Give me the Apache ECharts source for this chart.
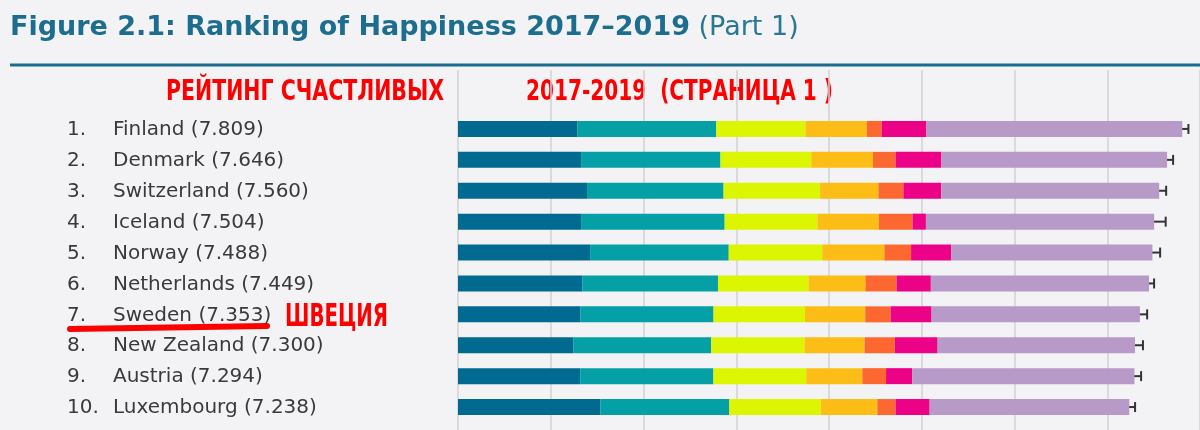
<!DOCTYPE html>
<html><head><meta charset="utf-8">
<script src="https://cdn.jsdelivr.net/npm/echarts@6/dist/echarts.min.js"></script>
<style>html,body{margin:0;padding:0;background:#f3f3f5}#c{width:1200px;height:430px}</style>
</head><body><div id="c"></div><script>
const ranks = ['1.','2.','3.','4.','5.','6.','7.','8.','9.','10.'];
const countries = ['Finland','Denmark','Switzerland','Iceland','Norway','Netherlands','Sweden','New Zealand','Austria','Luxembourg'];
const scores = ['7.809','7.646','7.560','7.504','7.488','7.449','7.353','7.300','7.294','7.238'];
const gdp        = [1.285,1.327,1.391,1.327,1.424,1.339,1.322,1.242,1.317,1.537];
const social     = [1.500,1.503,1.472,1.548,1.495,1.464,1.433,1.487,1.437,1.388];
const health     = [0.961,0.979,1.041,1.001,1.008,0.976,0.986,1.008,1.001,0.986];
const freedom    = [0.662,0.665,0.629,0.662,0.670,0.614,0.650,0.647,0.604,0.610];
const generosity = [0.160,0.243,0.269,0.362,0.288,0.336,0.273,0.326,0.256,0.196];
const corruption = [0.478,0.495,0.408,0.145,0.434,0.369,0.442,0.461,0.281,0.368];
const dystopia   = [2.763,2.433,2.350,2.461,2.168,2.352,2.246,2.128,2.397,2.153];
const ciLow  = [7.735,7.570,7.490,7.380,7.410,7.390,7.275,7.220,7.225,7.165];
const ciHigh = [7.875,7.710,7.635,7.630,7.570,7.505,7.430,7.385,7.365,7.300];

const segNames = ['GDP per capita','Social support','Healthy life expectancy','Freedom','Generosity','Corruption','Dystopia + residual'];
const segData = [gdp, social, health, freedom, generosity, corruption, dystopia];
const segColors = ['#006a91','#04a0a5','#dcf500','#fbbd16','#fd6830','#ec0287','#b79ac8'];

const redFamily = '"Liberation Sans Narrow", "DejaVu Sans Condensed", sans-serif';
function fitScale(text, size, target){
  const ctx = document.createElement('canvas').getContext('2d');
  ctx.font = 'bold ' + size + 'px ' + redFamily;
  return target / ctx.measureText(text).width;
}
const t1 = 'РЕЙТИНГ СЧАСТЛИВЫХ', t2 = '2017-2019  (СТРАНИЦА 1 )', t3 = 'ШВЕЦИЯ';
function redText(text, x, y, size, width){
  return { type: 'text', x: x, y: y, scaleX: fitScale(text, size, width),
    style: { text: text, fontFamily: redFamily, fontWeight: 'bold', fontSize: size,
      fill: '#ff0000', align: 'left', verticalAlign: 'middle' } };
}

const chart = echarts.init(document.getElementById('c'));
const series = segData.map((d, k) => ({
  name: segNames[k], type: 'bar', stack: 'total', xAxisIndex: 1, yAxisIndex: 1,
  barWidth: 16, data: d, itemStyle: { color: segColors[k] }, silent: true
}));
series.push({
  type: 'custom', xAxisIndex: 1, yAxisIndex: 1, silent: true,
  data: ciLow.map((l, i) => [l, ciHigh[i], i]),
  encode: { x: [0, 1], y: 2 },
  renderItem: function (params, api) {
    const a = api.coord([api.value(0), api.value(2)]);
    const b = api.coord([api.value(1), api.value(2)]);
    const h = 5, st = { stroke: '#333', lineWidth: 2 };
    return { type: 'group', children: [
      { type: 'line', shape: { x1: a[0], y1: a[1], x2: b[0], y2: b[1] }, style: st },
      { type: 'line', shape: { x1: a[0], y1: a[1]-h, x2: a[0], y2: a[1]+h }, style: st },
      { type: 'line', shape: { x1: b[0], y1: b[1]-h, x2: b[0], y2: b[1]+h }, style: st }
    ]};
  }
});

const labelFont = '"DejaVu Sans", sans-serif';
chart.setOption({
  animation: false,
  backgroundColor: '#f3f3f5',
  grid: [
    { left: 458, right: 0, top: 70, bottom: 0 },
    { left: 458, right: 0, top: 113.5, height: 309 }
  ],
  xAxis: [
    { gridIndex: 0, type: 'value', min: 0, max: 8, interval: 1,
      axisLine: { show: false }, axisTick: { show: false }, axisLabel: { show: false },
      splitLine: { show: true, lineStyle: { color: '#d2d2d4', width: 1.5 } } },
    { gridIndex: 1, type: 'value', min: 0, max: 8, interval: 1,
      axisLine: { show: false }, axisTick: { show: false }, axisLabel: { show: false },
      splitLine: { show: false } }
  ],
  yAxis: [
    { gridIndex: 0, type: 'value', show: false },
    { gridIndex: 1, type: 'category', inverse: true, data: countries,
      axisLine: { show: false }, axisTick: { show: false },
      axisLabel: {
        align: 'left', margin: 391,
        formatter: function (v, i) { return '{r|' + ranks[i] + '}{n|' + v + ' (' + scores[i] + ')}'; },
        rich: {
          r: { width: 46, fontFamily: labelFont, fontSize: 20, color: '#3a3a3a', padding: [2, 0, 0, 0] },
          n: { fontFamily: labelFont, fontSize: 20, color: '#3a3a3a', padding: [2, 0, 0, 0] }
        }
      } }
  ],
  series: series,
  graphic: [
    { type: 'text', left: 10, top: 14,
      style: { text: '{b|Figure 2.1: Ranking of Happiness 2017–2019}{r| (Part 1)}',
        rich: {
          b: { fontFamily: labelFont, fontWeight: 'bold', fontSize: 27, fill: '#1d6e8e', color: '#1d6e8e' },
          r: { fontFamily: labelFont, fontSize: 27, fill: '#2a7794', color: '#2a7794' }
        } } },
    { type: 'rect', shape: { x: 10, y: 63.5, width: 1190, height: 3 }, style: { fill: '#1b6d8f' } },
    redText(t1, 166, 92, 29, 278),
    redText(t2, 526, 92, 29, 307),
    redText(t3, 285, 318, 32, 103),
    { type: 'line', shape: { x1: 70, y1: 329, x2: 267, y2: 326 },
      style: { stroke: '#ff0000', lineWidth: 6, lineCap: 'round' } }
  ]
});
</script></body></html>
